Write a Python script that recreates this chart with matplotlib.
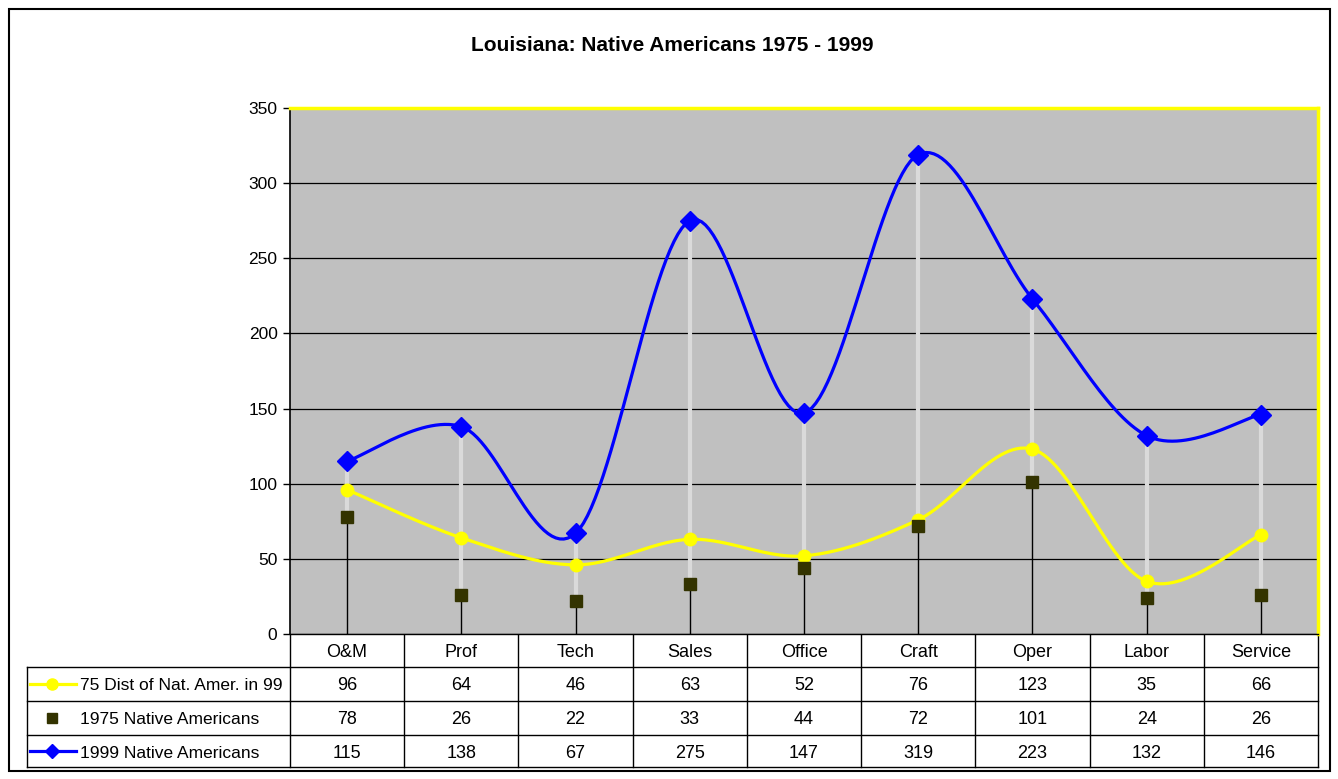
import numpy as np
import matplotlib.pyplot as plt
from matplotlib.patches import Rectangle

plt.rcParams['font.family'] = ['Liberation Sans', 'DejaVu Sans']

# 数据
categories = ['O&M', 'Prof', 'Tech', 'Sales', 'Office', 'Craft', 'Oper', 'Labor', 'Service']
dist75 = [96, 64, 46, 63, 52, 76, 123, 35, 66]
na1975 = [78, 26, 22, 33, 44, 72, 101, 24, 26]
na1999 = [115, 138, 67, 275, 147, 319, 223, 132, 146]
series_names = ['75 Dist of Nat. Amer. in 99', '1975 Native Americans', '1999 Native Americans']
yticks = [0, 50, 100, 150, 200, 250, 300, 350]

W, H = 1338, 779


def smooth(x, y, n=30):
    """Excel 风格的平滑曲线（Bezier，控制点取相邻点差的 1/6）"""
    x = np.asarray(x, float)
    y = np.asarray(y, float)
    P = np.column_stack([x, y])
    out = []
    for i in range(len(P) - 1):
        p0 = P[i - 1] if i > 0 else P[i]
        p1 = P[i]
        p2 = P[i + 1]
        p3 = P[i + 2] if i + 2 < len(P) else P[i + 1]
        c1 = p1 + (p2 - p0) / 6
        c2 = p2 - (p3 - p1) / 6
        t = np.linspace(0, 1, n)[:, None]
        seg = (1 - t) ** 3 * p1 + 3 * (1 - t) ** 2 * t * c1 + 3 * (1 - t) * t ** 2 * c2 + t ** 3 * p2
        out.append(seg if i == 0 else seg[1:])
    seg = np.vstack(out)
    return seg[:, 0], seg[:, 1]


fig = plt.figure(figsize=(W / 100, H / 100), dpi=100)

# 背景层（像素坐标）
bg = fig.add_axes([0, 0, 1, 1])
bg.set_xlim(0, W)
bg.set_ylim(H, 0)
bg.axis('off')
bg.add_patch(Rectangle((9, 9), 1321, 762, fill=False, edgecolor='black', lw=1.5))

# 绘图区
L, R, T, B = 290, 1318, 108, 634
ax = fig.add_axes([L / W, (H - B) / H, (R - L) / W, (B - T) / H])
ax.set_facecolor('#C0C0C0')
x = np.arange(len(categories))
ax.set_xlim(-0.5, len(categories) - 0.5)
ax.set_ylim(0, 350)
ax.set_yticks(yticks)
ax.set_yticklabels([str(v) for v in yticks], fontsize=12.5)
ax.set_xticks([])
ax.tick_params(axis='y', direction='out', length=5, width=1, pad=4)
ax.yaxis.grid(True, color='black', lw=0.9)
ax.set_axisbelow(True)
for s in ['top', 'right']:
    ax.spines[s].set_color('#FFFF00')
    ax.spines[s].set_linewidth(2.5)
ax.spines['left'].set_color('black')
ax.spines['left'].set_linewidth(1.2)
ax.spines['bottom'].set_color('black')
ax.spines['bottom'].set_linewidth(1)

# 高低线和垂直线
lo = np.minimum(np.minimum(dist75, na1975), na1999)
hi = np.maximum(np.maximum(dist75, na1975), na1999)
ax.vlines(x, lo, hi, color='#DADADA', lw=3, zorder=2)
ax.vlines(x, 0, na1975, color='black', lw=1, zorder=2)

sx, sy = smooth(x, dist75)
ax.plot(sx, sy, color='#FFFF00', lw=2.3, zorder=3)
ax.plot(x, dist75, 'o', color='#FFFF00', ms=9, zorder=4)
ax.plot(x, na1975, 's', color='#333300', ms=8, zorder=4)
sx, sy = smooth(x, na1999)
ax.plot(sx, sy, color='#0000FF', lw=2.3, zorder=3)
ax.plot(x, na1999, 'D', color='#0000FF', ms=10, zorder=5)

# 标题
bg.text(672, 45, 'Louisiana: Native Americans 1975 - 1999', ha='center', va='center',
        fontsize=15, fontweight='bold')

# 数据表
col_w = (R - L) / len(categories)
rows_y = [634, 667, 701, 735, 767]
tl = 27
dy = 2  # 文字略向下偏移
for yy in rows_y[1:]:
    bg.plot([tl, R], [yy, yy], color='black', lw=1)
bg.plot([tl, tl], [rows_y[1], rows_y[-1]], color='black', lw=1)
for i in range(len(categories) + 1):
    xx = L + i * col_w
    bg.plot([xx, xx], [rows_y[0], rows_y[-1]], color='black', lw=1)
for i, c in enumerate(categories):
    cx = L + (i + 0.5) * col_w
    bg.text(cx, (rows_y[0] + rows_y[1]) / 2 + dy, c, ha='center', va='center', fontsize=13)
    for r, vals in enumerate([dist75, na1975, na1999]):
        bg.text(cx, (rows_y[r + 1] + rows_y[r + 2]) / 2 + dy, str(vals[i]), ha='center',
                va='center', fontsize=13)

# 图例键
styles = [dict(color='#FFFF00', marker='o', ms=8, line=True),
          dict(color='#333300', marker='s', ms=7, line=False),
          dict(color='#0000FF', marker='D', ms=7, line=True)]
for r, (name, st) in enumerate(zip(series_names, styles)):
    cy = (rows_y[r + 1] + rows_y[r + 2]) / 2
    if st['line']:
        bg.plot([30, 76], [cy, cy], color=st['color'], lw=2.3)
    bg.plot([52], [cy], marker=st['marker'], color=st['color'], ms=st['ms'])
    bg.text(80, cy + dy, name, ha='left', va='center', fontsize=12.5)

fig.savefig('out.png', dpi=100)
